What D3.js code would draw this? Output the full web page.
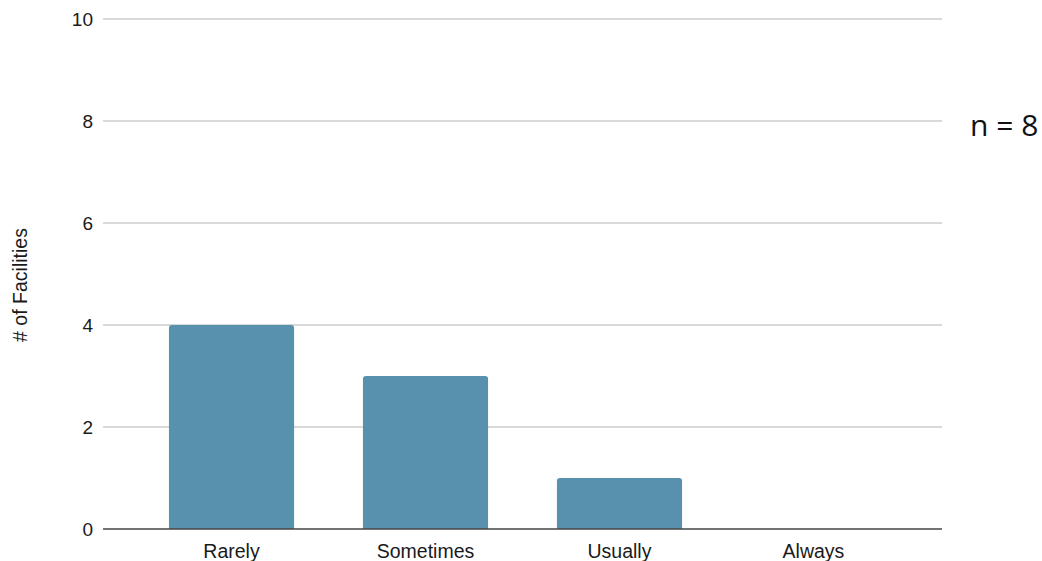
<!DOCTYPE html>
<html>
<head>
<meta charset="utf-8">
<script src="https://cdn.jsdelivr.net/npm/d3@7"></script>
<style>
  html, body { margin: 0; padding: 0; background: #fff; }
  svg { display: block; font-family: "Liberation Sans", Arial, sans-serif; }
</style>
</head>
<body>
<svg id="chart" width="1042" height="561"></svg>
<script>
// Response categories and facility counts
const categories = ["Rarely", "Sometimes", "Usually", "Always"];
const counts = [4, 3, 1, 0];
const yTicks = [0, 2, 4, 6, 8, 10];
const yTitle = "# of Facilities";
const noteText = "n = 8";

const svg = d3.select("#chart");
const plotLeft = 103, plotRight = 942, plotTop = 19, plotBottom = 529;

const x = d3.scaleBand()
  .domain(categories)
  .range([plotLeft, plotRight])
  .paddingInner(0.355)
  .paddingOuter(0.34);

const y = d3.scaleLinear().domain([0, 10]).range([plotBottom, plotTop]);

// Horizontal gridlines
svg.append("g")
  .selectAll("line")
  .data(yTicks.filter(d => d !== 0))
  .join("line")
  .attr("x1", plotLeft).attr("x2", plotRight)
  .attr("y1", d => y(d)).attr("y2", d => y(d))
  .attr("stroke", "#cccccc")
  .attr("stroke-width", 1.3);

// Y tick labels
svg.append("g")
  .selectAll("text")
  .data(yTicks)
  .join("text")
  .attr("x", 93)
  .attr("y", d => y(d))
  .attr("dy", "0.35em")
  .attr("text-anchor", "end")
  .attr("font-size", 19)
  .attr("fill", "#1a1a1a")
  .text(d => d);

// Bars with slightly rounded tops
const r = 3;
svg.append("g")
  .selectAll("path")
  .data(categories.map((c, i) => ({ c, v: counts[i] })).filter(d => d.v > 0))
  .join("path")
  .attr("fill", "#5891ae")
  .attr("d", d => {
    const x0 = x(d.c), x1 = x0 + x.bandwidth();
    const y0 = y(d.v), y1 = y(0);
    return `M${x0},${y1} L${x0},${y0 + r} Q${x0},${y0} ${x0 + r},${y0}
            L${x1 - r},${y0} Q${x1},${y0} ${x1},${y0 + r} L${x1},${y1} Z`;
  });

// Baseline
svg.append("line")
  .attr("x1", plotLeft).attr("x2", plotRight)
  .attr("y1", y(0)).attr("y2", y(0))
  .attr("stroke", "#444")
  .attr("stroke-width", 1.5);

// Category labels
svg.append("g")
  .selectAll("text")
  .data(categories)
  .join("text")
  .attr("x", d => x(d) + x.bandwidth() / 2)
  .attr("y", 558)
  .attr("text-anchor", "middle")
  .attr("font-size", 19.5)
  .attr("fill", "#1a1a1a")
  .text(d => d);

// Y axis title
svg.append("text")
  .attr("transform", `translate(27,285) rotate(-90)`)
  .attr("text-anchor", "middle")
  .attr("font-size", 19.5)
  .attr("fill", "#1a1a1a")
  .text(yTitle);

// Sample size note
svg.append("text")
  .attr("x", 970)
  .attr("y", 136)
  .attr("font-family", "'Open Sans', 'Noto Sans', sans-serif")
  .attr("font-size", 30)
  .attr("fill", "#111")
  .text(noteText);
</script>
</body>
</html>
